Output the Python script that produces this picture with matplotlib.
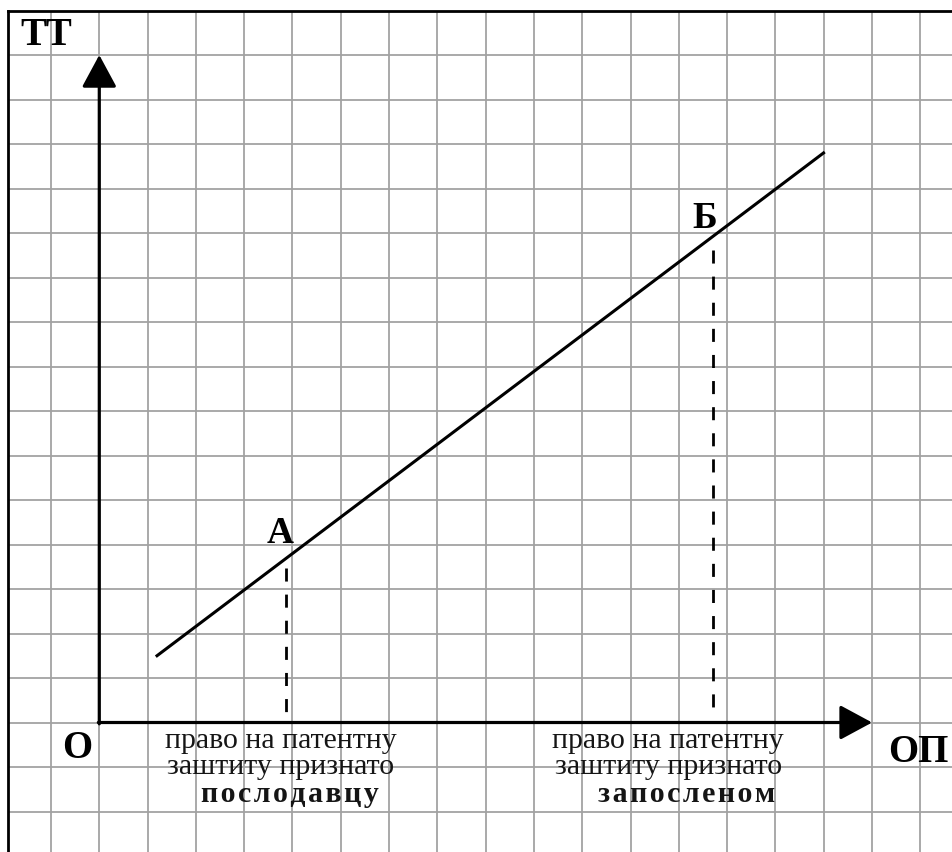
import matplotlib
matplotlib.use("Agg")
import matplotlib.pyplot as plt

# ---- data (grid units; origin O at (0, 0)) ----
line_u = [1.17, 15.02]
line_v = [1.48, 12.82]

point_names = ["А", "Б"]
point_u = [3.87, 12.70]          # where the dashed drop-lines sit
point_top_v = [3.47, 10.62]      # top of dashed drop-lines
drop_bottom_v = 0.24
label_u = [3.74, 12.54]
label_v = [4.03, 11.11]

x_axis_tip = 16.0
y_axis_tip = 15.0

bottom_text_left = ["право на патентну", "заштиту признато", "послодавцу"]
bottom_text_right = ["право на патентну", "заштиту признато", "запосленом"]
bottom_left_u = [3.76, 3.76, 3.95]
bottom_right_u = [11.78, 11.78, 12.15]
bottom_v = [-0.573, -1.157, -1.787]
bottom_bold = [False, False, True]

x_grid = list(range(-1, 18))
y_grid = list(range(-2, 16))

# ---- figure ----
plt.rcParams["lines.scale_dashes"] = False
SERIF = ["Liberation Serif", "DejaVu Serif"]


def spaced(s):
    return "\u200a".join(s)


fig = plt.figure(figsize=(9.53, 8.52), dpi=100)
ax = fig.add_axes([8 / 953, 0, 1 - 8 / 953, (852 - 10.5) / 852])
ax.set_xlim(-1.890, 17.675)
ax.set_ylim(-2.910, 16.0)

ax.set_xticks(x_grid)
ax.set_yticks(y_grid)
ax.tick_params(length=0, labelleft=False, labelbottom=False)
ax.grid(True, color="#a2a2a2", lw=1.3)
ax.set_axisbelow(True)
for s in ["right", "bottom"]:
    ax.spines[s].set_visible(False)
for s in ["left", "top"]:
    ax.spines[s].set_linewidth(2.0)
    ax.spines[s].set_color("black")

# axes arrows
arrow_style = "-|>,head_length=2.0,head_width=1.08"
ax.annotate("", xy=(x_axis_tip, 0), xytext=(-0.02, 0),
            arrowprops=dict(arrowstyle=arrow_style, mutation_scale=10,
                            lw=2.3, color="black", shrinkA=0, shrinkB=0))
ax.annotate("", xy=(0, y_axis_tip), xytext=(0, -0.03),
            arrowprops=dict(arrowstyle=arrow_style, mutation_scale=10,
                            lw=2.3, color="black", shrinkA=0, shrinkB=0))

# main line
ax.plot(line_u, line_v, color="black", lw=2.2, solid_capstyle="butt")

# dashed drop lines and point labels
for name, pu, pv, lu, lv in zip(point_names, point_u, point_top_v, label_u, label_v):
    ax.plot([pu, pu], [pv, drop_bottom_v], color="black", lw=2.0,
            dashes=(9.4, 9.4))
    ax.text(lu, lv, name, ha="center", va="baseline", fontsize=27,
            fontweight="bold", family=SERIF)

# axis labels
ax.text(-1.10, 15.22, "ТТ", ha="center", va="baseline", fontsize=28,
        fontweight="bold", family=SERIF)
ax.text(-0.46, -0.80, "О", ha="center", va="baseline", fontsize=28,
        fontweight="bold", family=SERIF)
ax.text(16.33, -0.89, "ОП", ha="left", va="baseline", fontsize=28,
        fontweight="bold", family=SERIF, clip_on=False)

# bottom captions
for texts, us in ((bottom_text_left, bottom_left_u), (bottom_text_right, bottom_right_u)):
    for txt, u, v, b in zip(texts, us, bottom_v, bottom_bold):
        ax.text(u, v, spaced(txt) if b else txt, ha="center", va="baseline",
                fontsize=21.5, fontweight="bold" if b else "normal",
                family=SERIF, color="#151515")

fig.savefig("out.png", dpi=100, facecolor="white")
